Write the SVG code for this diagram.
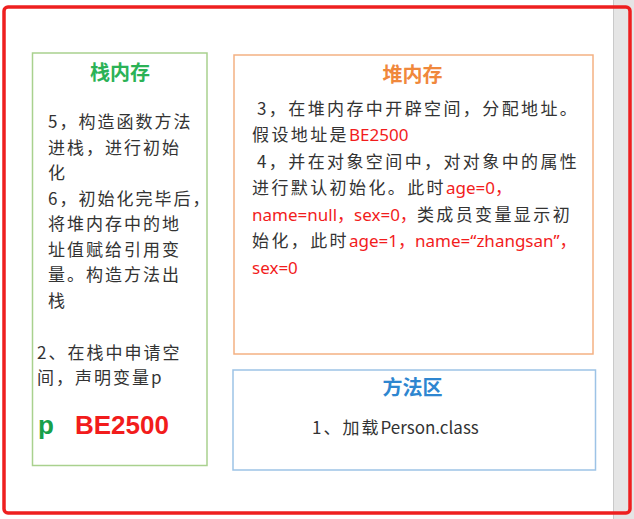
<svg xmlns="http://www.w3.org/2000/svg" width="634" height="519" viewBox="0 0 634 519">
<style>
.t{font-family:"Noto Sans CJK SC","Noto Sans",sans-serif;font-size:17px;fill:#333333;letter-spacing:2px}
.w{letter-spacing:2.4px}
.l{letter-spacing:0}
.r{fill:#f21c1c;letter-spacing:0;font-family:"Noto Sans","Noto Sans CJK SC",sans-serif}
.h{font-family:"Noto Sans CJK SC","Noto Sans",sans-serif;font-size:20px;font-weight:bold;text-anchor:middle}
.big{font-family:"Liberation Sans",Arial,sans-serif;font-size:26px;font-weight:bold}
</style>
<rect width="634" height="519" fill="#ffffff"/>
<rect x="613" y="0" width="21" height="519" fill="#e5e5e5"/>
<line x1="613.5" y1="0" x2="613.5" y2="519" stroke="#c9c9c9" stroke-width="1"/>
<rect x="4" y="7" width="626" height="506" rx="4" fill="none" stroke="#ee1f1f" stroke-width="3.5"/>
<g id="stack">
<rect x="32.5" y="53" width="174.5" height="412.5" fill="none" stroke="#a9d18e" stroke-width="1.5"/>
<text class="h" x="120" y="80" fill="#2bb256">栈内存</text>
<text class="t" x="48" y="128">5，构造函数方法</text>
<text class="t" x="48" y="153.5">进栈，进行初始</text>
<text class="t" x="48" y="179">化</text>
<text class="t" x="48" y="204.5">6，初始化完毕后，</text>
<text class="t" x="48" y="230">将堆内存中的地</text>
<text class="t" x="48" y="255.5">址值赋给引用变</text>
<text class="t" x="48" y="281">量。构造方法出</text>
<text class="t" x="48" y="306.5">栈</text>
<text class="t" x="37" y="358.5">2、在栈中申请空</text>
<text class="t" x="37" y="383.5">间，声明变量<tspan class="l">p</tspan></text>
<text class="big" x="38" y="434" fill="#18a04a">p</text>
<text class="big" x="75" y="434" fill="#f21c1c">BE2500</text>
</g>
<g id="heap">
<rect x="234" y="55" width="359" height="299" fill="none" stroke="#f4b183" stroke-width="1.5"/>
<text class="h" x="412.5" y="82" fill="#f0883c">堆内存</text>
<text class="t w" x="257" y="114.5">3，在堆内存中开辟空间，分配地址。</text>
<text class="t w" x="252" y="141">假设地址是<tspan class="r">BE2500</tspan></text>
<text class="t w" x="257" y="167.5">4，并在对象空间中，对对象中的属性</text>
<text class="t w" x="252" y="194">进行默认初始化。此时<tspan class="r">age=0，</tspan></text>
<text class="t w" x="252" y="220.5"><tspan class="r">name=null，sex=0，</tspan>类成员变量显示初</text>
<text class="t w" x="252" y="247">始化，此时<tspan class="r">age=1，name=“zhangsan”，</tspan></text>
<text class="t w" x="252" y="273.5"><tspan class="r">sex=0</tspan></text>
</g>
<g id="method">
<rect x="233" y="370" width="362.5" height="100" fill="none" stroke="#9dc3e6" stroke-width="1.5"/>
<text class="h" x="412.5" y="395" fill="#2e86d0">方法区</text>
<text class="t" x="312" y="433.5">1、加载<tspan class="l">Person.class</tspan></text>
</g>
<g id="connectors"></g>
</svg>
